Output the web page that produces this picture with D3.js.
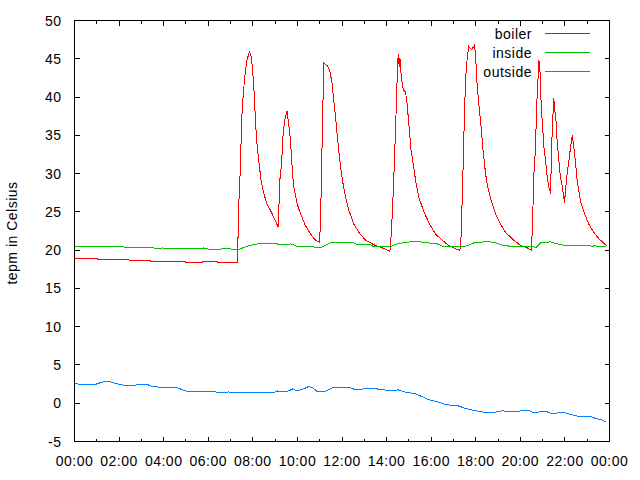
<!DOCTYPE html>
<html>
<head>
<meta charset="utf-8">
<script src="https://cdn.jsdelivr.net/npm/d3@7"></script>
<style>
  body { margin: 0; background: #fff; }
  svg text {
    font-family: 'Liberation Sans', Arial, sans-serif;
    font-size: 14px;
    letter-spacing: 0.5px;
    fill: #000;
  }
</style>
</head>
<body>
<svg id="chart" width="640" height="480"></svg>
<script>
'use strict';

// tick labels of the time axis, one every two hours
const xTickLabels = ['00:00', '02:00', '04:00', '06:00', '08:00', '10:00', '12:00',
  '14:00', '16:00', '18:00', '20:00', '22:00', '00:00'];
const yTickValues = [-5, 0, 5, 10, 15, 20, 25, 30, 35, 40, 45, 50];
const seriesNames = ['boiler', 'inside', 'outside'];

// [hour of day, temperature]
const boiler = [
  [0, 19.1], [0.05, 18.9], [1.02, 18.9], [1.05, 18.75], [2.44, 18.75], [2.47, 18.6],
  [3.41, 18.6], [3.44, 18.5], [4.98, 18.5], [5.0, 18.4], [5.28, 18.4], [5.3, 18.35],
  [5.73, 18.35], [5.76, 18.5], [6.4, 18.5], [6.43, 18.35], [7.31, 18.35], [7.33, 21.0],
  [7.37, 26.05], [7.45, 31.3], [7.49, 36.5], [7.55, 39.5], [7.61, 41.7], [7.67, 43.5],
  [7.75, 45.0], [7.85, 45.9], [7.93, 45.3], [7.99, 43.5], [8.05, 40.9], [8.11, 37.4],
  [8.17, 34.3], [8.22, 32.9], [8.28, 31.3], [8.37, 29.1], [8.49, 27.4], [8.64, 26.0],
  [8.79, 25.2], [8.94, 24.3], [9.14, 23.0], [9.21, 29.1], [9.29, 31.3], [9.35, 34.8],
  [9.42, 36.9], [9.53, 38.2], [9.59, 36.9], [9.66, 35.2], [9.72, 32.9], [9.78, 30.0],
  [9.84, 28.2], [9.99, 26.0], [10.14, 24.75], [10.36, 23.2], [10.59, 22.1], [10.81, 21.3],
  [10.99, 21.0], [11.04, 23.9], [11.08, 30.0], [11.14, 38.7], [11.19, 44.4], [11.34, 44.1],
  [11.45, 43.5], [11.56, 41.7], [11.63, 39.5], [11.71, 37.4], [11.81, 34.3], [11.9, 31.7],
  [12.02, 29.1], [12.16, 26.9], [12.31, 25.2], [12.53, 23.4], [12.76, 22.3], [13.06, 21.3],
  [13.43, 20.7], [13.8, 20.3], [14.15, 19.86], [14.21, 22.1], [14.27, 25.6], [14.33, 30.0],
  [14.4, 35.6], [14.48, 43.0], [14.52, 45.6], [14.57, 43.9], [14.6, 45.1], [14.66, 42.6],
  [14.75, 40.9], [14.85, 40.7], [14.92, 39.1], [15.01, 36.1], [15.1, 33.0], [15.22, 30.8],
  [15.3, 29.1], [15.45, 26.9], [15.6, 25.6], [15.75, 24.5], [15.97, 23.2], [16.2, 22.1],
  [16.49, 21.3], [16.79, 20.6], [17.09, 20.2], [17.29, 19.95], [17.35, 22.1], [17.39, 26.5],
  [17.44, 31.7], [17.5, 38.7], [17.56, 43.0], [17.62, 45.2], [17.69, 46.6], [17.81, 46.2],
  [17.95, 46.8], [18.0, 45.0], [18.06, 41.7], [18.15, 38.7], [18.24, 36.1], [18.33, 33.0],
  [18.44, 30.0], [18.54, 28.2], [18.69, 26.5], [18.89, 24.75], [19.11, 23.4], [19.34, 22.3],
  [19.56, 21.7], [19.71, 21.3], [20.01, 20.6], [20.31, 20.3], [20.5, 19.95], [20.55, 23.9],
  [20.61, 30.0], [20.68, 33.4], [20.73, 38.7], [20.79, 42.2], [20.83, 44.9], [20.88, 43.5],
  [20.94, 38.7], [21.0, 36.1], [21.06, 33.4], [21.13, 31.7], [21.21, 29.5], [21.28, 28.2],
  [21.36, 27.4], [21.4, 33.4], [21.46, 37.4], [21.5, 39.9], [21.55, 38.2], [21.59, 37.4],
  [21.65, 34.3], [21.73, 31.7], [21.8, 29.5], [21.89, 28.2], [21.98, 26.2], [22.04, 28.2],
  [22.1, 30.0], [22.18, 31.7], [22.25, 33.4], [22.33, 35.0], [22.4, 33.4], [22.48, 31.3],
  [22.55, 29.1], [22.64, 27.4], [22.73, 26.05], [22.88, 24.75], [23.07, 23.4], [23.3, 22.3],
  [23.52, 21.5], [23.78, 20.8], [23.87, 20.6]
];

const inside = [
  [0, 20.43], [2.21, 20.43], [2.26, 20.3], [3.56, 20.3], [3.63, 20.17], [3.86, 20.17],
  [3.93, 20.3], [4.08, 20.17], [5.73, 20.17], [5.8, 20.3], [5.95, 20.17], [6.1, 20.04],
  [6.4, 20.04], [6.62, 20.17], [6.99, 20.17], [7.14, 20.04], [7.29, 20.04], [7.44, 20.17],
  [7.67, 20.43], [7.97, 20.69], [8.2, 20.82], [9.1, 20.82], [9.17, 20.69], [9.62, 20.69],
  [9.69, 20.82], [9.84, 20.69], [9.99, 20.43], [10.74, 20.43], [10.82, 20.3], [11.04, 20.3],
  [11.19, 20.56], [11.49, 20.95], [12.53, 20.95], [12.68, 20.69], [13.28, 20.69], [13.43, 20.43],
  [14.18, 20.43], [14.33, 20.69], [14.7, 20.95], [15.07, 21.08], [15.52, 21.08], [15.82, 20.95],
  [16.27, 20.82], [16.57, 20.43], [17.47, 20.43], [17.7, 20.69], [17.92, 20.95], [18.37, 21.08],
  [18.67, 21.08], [18.9, 20.95], [19.12, 20.69], [19.72, 20.43], [20.61, 20.43], [20.69, 20.3],
  [20.91, 20.95], [21.36, 21.08], [21.5, 20.95], [21.66, 20.82], [22.1, 20.56], [23.15, 20.56],
  [23.22, 20.43], [23.3, 20.56], [23.82, 20.43]
];

const outside = [
  [0, 2.62], [0.3, 2.4], [0.9, 2.4], [1.0, 2.53], [1.3, 2.8], [1.6, 2.8], [1.8, 2.6],
  [2.1, 2.4], [2.5, 2.27], [2.8, 2.4], [3.3, 2.4], [3.5, 2.18], [4.0, 2.05], [4.6, 2.05],
  [4.8, 1.8], [5.0, 1.6], [5.2, 1.49], [6.3, 1.49], [6.5, 1.36], [6.8, 1.36], [6.9, 1.49],
  [7.05, 1.36], [8.9, 1.36], [9.1, 1.6], [9.3, 1.5], [9.6, 1.6], [9.8, 1.88], [10.0, 1.6],
  [10.3, 1.9], [10.5, 2.18], [10.7, 2.0], [10.9, 1.5], [11.2, 1.5], [11.4, 1.75], [11.6, 2.05],
  [12.0, 2.05], [12.4, 2.0], [12.6, 1.76], [13.1, 1.9], [13.5, 1.9], [13.8, 1.76], [14.3, 1.62],
  [14.5, 1.76], [14.8, 1.49], [15.3, 1.23], [15.6, 0.84], [15.9, 0.45], [16.3, 0.18],
  [16.7, -0.21], [17.2, -0.34], [17.6, -0.73], [18.2, -1.12], [18.7, -1.25], [19.2, -0.99],
  [19.6, -1.12], [20.1, -0.99], [20.4, -0.99], [20.6, -1.25], [20.9, -1.12], [21.2, -1.12],
  [21.4, -1.38], [21.7, -1.25], [22.0, -1.25], [22.3, -1.5], [22.7, -1.77], [23.2, -1.77],
  [23.4, -2.03], [23.6, -2.1], [23.85, -2.43]
];

const colors = ['#ff0000', '#00c000', '#0080ff'];

const margin = {
  top: 20,
  right: 31,
  bottom: 39,
  left: 74,
};
const width = 640 - margin.left - margin.right;
const height = 480 - margin.top - margin.bottom;

const svg = d3.select('#chart');
const g = svg
  .append('g')
  .attr('transform', 'translate(' + (margin.left + 0.5) + ', ' + (margin.top + 0.5) + ')');

const xScale = d3.scaleLinear().domain([0, 24]).range([0, width]);
const yScale = d3.scaleLinear().domain([-5, 50]).range([height, 0]);

// ticks point inwards on all four sides
const majorLen = 5;
const minorLen = 3;
const hours = d3.range(0, 25);

g.selectAll('.xtick')
  .data(hours)
  .enter()
  .append('path')
  .attr('class', 'xtick')
  .attr('d', function(d) {
    const x = Math.round(xScale(d));
    const len = d % 2 === 0 ? majorLen : minorLen;
    return 'M' + x + ',' + height + 'v' + -len + 'M' + x + ',0v' + len;
  })
  .attr('stroke', '#000')
  .attr('shape-rendering', 'crispEdges');

g.selectAll('.ytick')
  .data(yTickValues)
  .enter()
  .append('path')
  .attr('class', 'ytick')
  .attr('d', function(d) {
    const y = Math.round(yScale(d));
    return 'M0,' + y + 'h' + majorLen + 'M' + width + ',' + y + 'h' + -majorLen;
  })
  .attr('stroke', '#000')
  .attr('shape-rendering', 'crispEdges');

// tick labels
g.selectAll('.xlabel')
  .data(xTickLabels)
  .enter()
  .append('text')
  .attr('class', 'xlabel')
  .attr('x', function(d, i) {
    return xScale(i * 2);
  })
  .attr('y', height + 24)
  .attr('text-anchor', 'middle')
  .text(function(d) {
    return d;
  });

g.selectAll('.ylabel')
  .data(yTickValues)
  .enter()
  .append('text')
  .attr('class', 'ylabel')
  .attr('x', -13)
  .attr('y', function(d) {
    return yScale(d) + 5;
  })
  .attr('text-anchor', 'end')
  .text(function(d) {
    return d;
  });

svg
  .append('text')
  .attr('transform', 'translate(17, 233) rotate(-90)')
  .attr('text-anchor', 'middle')
  .text('tepm in Celsius');

// data lines
const line = d3
  .line()
  .x(function(d) {
    return xScale(d[0]);
  })
  .y(function(d) {
    return yScale(d[1]);
  });

[boiler, inside, outside].forEach(function(series, i) {
  g.append('path')
    .datum(series)
    .attr('d', line)
    .attr('fill', 'none')
    .attr('stroke', colors[i])
    .attr('stroke-width', 1)
    .attr('shape-rendering', 'crispEdges');
});

// border
g.append('rect')
  .attr('width', width)
  .attr('height', height)
  .attr('fill', 'none')
  .attr('stroke', '#000')
  .attr('shape-rendering', 'crispEdges');

// legend, top right
const legend = svg.append('g').attr('transform', 'translate(0, 0)');
seriesNames.forEach(function(name, i) {
  const y = 33.5 + i * 19;
  legend
    .append('text')
    .attr('x', 532)
    .attr('y', y + 5)
    .attr('text-anchor', 'end')
    .text(name);
  legend
    .append('line')
    .attr('x1', 545)
    .attr('x2', 590)
    .attr('y1', y)
    .attr('y2', y)
    .attr('stroke', colors[i])
    .attr('shape-rendering', 'crispEdges');
});
</script>
</body>
</html>
